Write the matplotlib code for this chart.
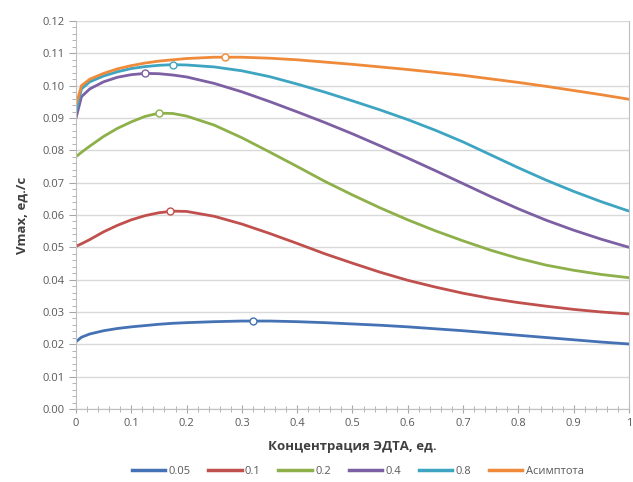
import matplotlib
matplotlib.use("Agg")
import matplotlib.pyplot as plt
from matplotlib.ticker import MultipleLocator, FormatStrFormatter, FuncFormatter

x = [0, 0.01, 0.025, 0.05, 0.075, 0.1, 0.125, 0.15, 0.175, 0.2, 0.25, 0.3, 0.35, 0.4,
     0.45, 0.5, 0.55, 0.6, 0.65, 0.7, 0.75, 0.8, 0.85, 0.9, 0.95, 1.0]

s005 = [0.0208, 0.0222, 0.0232, 0.0242, 0.0249, 0.0254, 0.0258, 0.0262, 0.0265, 0.0267, 0.0270,
        0.0272, 0.0272, 0.0270, 0.0267, 0.0263, 0.0259, 0.0254, 0.0248, 0.0242, 0.0235, 0.0228,
        0.0221, 0.0214, 0.0207, 0.0201]
s01 = [0.0503, 0.0511, 0.0524, 0.0548, 0.0568, 0.0585, 0.0598, 0.0607, 0.0612, 0.0611, 0.0596,
       0.0572, 0.0543, 0.0512, 0.0480, 0.0451, 0.0423, 0.0398, 0.0377, 0.0358, 0.0342, 0.0329,
       0.0318, 0.0308, 0.0300, 0.0294]
s02 = [0.0780, 0.0794, 0.0813, 0.0843, 0.0868, 0.0888, 0.0905, 0.0915, 0.0914, 0.0906, 0.0878,
       0.0839, 0.0795, 0.0750, 0.0704, 0.0662, 0.0622, 0.0585, 0.0551, 0.0520, 0.0491, 0.0466,
       0.0445, 0.0429, 0.0416, 0.0406]
s04 = [0.0899, 0.0966, 0.0990, 0.1012, 0.1026, 0.1034, 0.1038, 0.1037, 0.1033, 0.1027, 0.1007,
       0.0981, 0.0951, 0.0919, 0.0886, 0.0851, 0.0814, 0.0776, 0.0737, 0.0697, 0.0657, 0.0619,
       0.0584, 0.0553, 0.0525, 0.0500]
s08 = [0.0920, 0.0990, 0.1012, 0.1030, 0.1043, 0.1053, 0.1059, 0.1063, 0.1065, 0.1064, 0.1058,
       0.1046, 0.1028, 0.1005, 0.0980, 0.0953, 0.0925, 0.0895, 0.0862, 0.0826, 0.0786, 0.0746,
       0.0708, 0.0673, 0.0641, 0.0612]
asym = [0.0940, 0.1000, 0.1020, 0.1038, 0.1052, 0.1062, 0.1070, 0.1076, 0.1080, 0.1084, 0.1088,
        0.1088, 0.1085, 0.1080, 0.1073, 0.1066, 0.1058, 0.1050, 0.1041, 0.1032, 0.1021, 0.1010,
        0.0998, 0.0985, 0.0972, 0.0958]

labels = ["0.05", "0.1", "0.2", "0.4", "0.8", "Асимптота"]
series = [s005, s01, s02, s04, s08, asym]
colors = ["#4472B4", "#C0504D", "#8DB04A", "#7D5FA3", "#3DA5C2", "#EE8A3A"]
peak_x = [0.32, 0.17, 0.15, 0.125, 0.175, 0.27]
peak_y = [0.0272, 0.0613, 0.0916, 0.1038, 0.1065, 0.1089]

plt.rcParams['font.family'] = ['Open Sans', 'DejaVu Sans']

fig = plt.figure(figsize=(6.33, 4.82), dpi=100)
ax = fig.add_axes([0.120, 0.1515, 0.8737, 0.8049])

for s, c, lab, px, py in zip(series, colors, labels, peak_x, peak_y):
    ax.plot(x, s, color=c, lw=2.0, label=lab, solid_capstyle='round', solid_joinstyle='round')
    ax.plot([px], [py], marker='o', ms=5, mfc='white', mec=c, mew=1.0, ls='none')

ax.set_xlim(0, 1)
ax.set_ylim(0, 0.12)
ax.yaxis.set_major_locator(MultipleLocator(0.01))
ax.yaxis.set_minor_locator(MultipleLocator(0.002))
ax.xaxis.set_major_locator(MultipleLocator(0.1))
ax.xaxis.set_minor_locator(MultipleLocator(0.02))
ax.yaxis.set_major_formatter(FormatStrFormatter('%.2f'))
ax.xaxis.set_major_formatter(FuncFormatter(lambda v, p: ('%g' % round(v, 2))))

ax.grid(axis='y', which='major', color='#D9D9D9', lw=1.0)
ax.set_axisbelow(True)
ax.spines['top'].set_visible(False)
for sp in ['left', 'bottom', 'right']:
    ax.spines[sp].set_color('#BFBFBF')
ax.tick_params(axis='both', which='both', colors='#A6A6A6', labelcolor='#595959', labelsize=8)
ax.tick_params(axis='x', which='major', direction='inout', length=6)
ax.tick_params(axis='x', which='minor', direction='inout', length=4)
ax.tick_params(axis='y', which='major', direction='out', length=5)
ax.tick_params(axis='y', which='minor', direction='out', length=3)
ax.tick_params(right=False, which='both')

ax.set_xlabel("Концентрация ЭДТА, ед.", fontsize=9.5, fontweight='bold', color='#404040', labelpad=8)
ax.set_ylabel("Vmax, ед./с", fontsize=9.5, fontweight='bold', color='#404040', labelpad=10)

handles = [plt.Line2D([], [], color=c, lw=2.5) for c in colors]
fig.legend(handles, labels, loc='center', bbox_to_anchor=(0.565, 0.022), ncol=6, frameon=False,
           fontsize=8, handlelength=3.0, handletextpad=0.3, columnspacing=1.6,
           labelcolor='#595959')

fig.savefig("out.png", dpi=100)
